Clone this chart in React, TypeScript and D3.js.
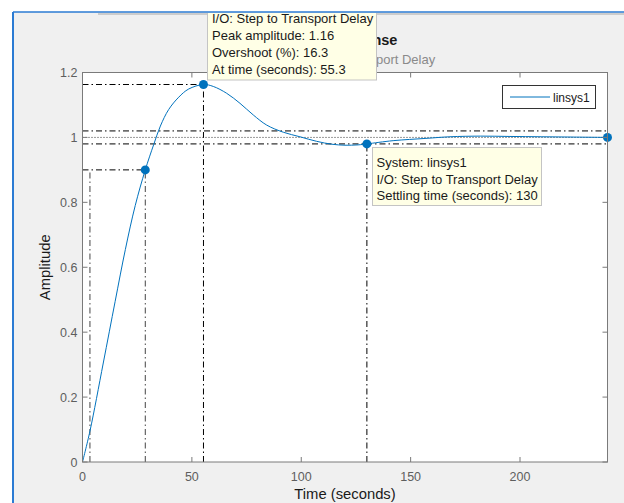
import React from "react";
import * as d3 from "d3";

// ---- data ----
const time = [0, 3.4, 9.5, 14.9, 19.6, 24.1, 28.7, 32.5, 35.6, 39.4, 44, 48.5, 55.3, 59.8, 65.9, 72, 78.1, 84.2, 91.8, 99.4, 107, 114, 120, 126, 130, 142, 157, 168, 182, 195, 210, 225, 240];
const amplitude = [0, 0.095, 0.305, 0.494, 0.655, 0.79, 0.9, 0.977, 1.035, 1.086, 1.124, 1.149, 1.163, 1.157, 1.136, 1.105, 1.069, 1.038, 1.016, 1.002, 0.988, 0.979, 0.976, 0.977, 0.98, 0.99, 0.997, 1.002, 1.004, 1.003, 1.002, 1.001, 1.0];

const xTicks = [0, 50, 100, 150, 200];
const yTicks = [0, 0.2, 0.4, 0.6, 0.8, 1, 1.2];
const yTickLabels = ["0", "0.2", "0.4", "0.6", "0.8", "1", "1.2"];

const riseTimes = [3.4, 28.7];
const riseLevel = 0.9;
const peakTime = 55.3;
const peakValue = 1.163;
const settleTime = 130;
const settleBand = [0.98, 1.02];
const steadyValue = 1.0;
const finalTime = 240;

const peakTip = ["System: linsys1", "I/O: Step to Transport Delay", "Peak amplitude: 1.16", "Overshoot (%): 16.3", "At time (seconds): 55.3"];
const settleTip = ["System: linsys1", "I/O: Step to Transport Delay", "Settling time (seconds): 130"];
const seriesName = "linsys1";

const W = 624;
const H = 503;
const L = 82.5, R = 607.5, T = 72.5, B = 462;

export default function App() {
  const x = d3.scaleLinear().domain([0, 240]).range([L, R]);
  const y = d3.scaleLinear().domain([0, 1.2]).range([B, T]);
  const line = d3
    .line<number>()
    .x((_, i) => x(time[i]))
    .y((d) => y(d))
    .curve(d3.curveCatmullRom.alpha(0.5));
  const blue = "#0072BD";
  const dashDot = "6,3,1.5,3";
  const font = "'Liberation Sans', Arial, Helvetica, sans-serif";
  const tickColor = "#7a7a7a";
  const labelColor = "#5e5e5e";

  const markers: [number, number][] = [
    [riseTimes[1], riseLevel],
    [peakTime, peakValue],
    [settleTime, settleBand[0]],
    [finalTime, steadyValue],
  ];

  return (
    <svg width={W} height={H} style={{ position: "absolute", left: 0, top: 0 }} fontFamily={font}>
      <defs>
        <clipPath id="fig">
          <rect x={13} y={13} width={W - 13} height={H - 13} />
        </clipPath>
        <clipPath id="plot">
          <rect x={L} y={T - 6} width={R - L + 6} height={B - T + 12} />
        </clipPath>
      </defs>
      <rect x={0} y={0} width={W} height={H} fill="#ffffff" />
      <rect x={13} y={12} width={W - 13} height={H - 12} fill="#f0f0f0" />
      <line x1={13} x2={W} y1={12} y2={12} stroke="#2b7bd3" strokeWidth={1.5} />
      <line x1={98} x2={W} y1={14} y2={14} stroke="#a8a8a8" strokeWidth={1} />
      <line x1={13} x2={13} y1={12} y2={H} stroke="#2b7bd3" strokeWidth={2} />

      {/* title and subtitle */}
      <text x={(L + R) / 2} y={45} textAnchor="middle" fontSize={14.5} fontWeight="bold" fill="#1a1a1a">
        Step Response
      </text>
      <text x={(L + R) / 2} y={64} textAnchor="middle" fontSize={13} fill="#8a8a8a">
        From: Step  To: Transport Delay
      </text>

      {/* axes area */}
      <rect x={L} y={T} width={R - L} height={B - T} fill="#ffffff" />

      {/* characteristic lines */}
      <g stroke="#000" strokeWidth={1} fill="none" strokeDasharray={dashDot}>
        <line x1={x(riseTimes[0])} x2={x(riseTimes[0])} y1={y(0)} y2={y(riseLevel)} stroke="#444" />
        <line x1={x(riseTimes[1])} x2={x(riseTimes[1])} y1={y(0)} y2={y(riseLevel)} stroke="#444" />
        <line x1={x(0)} x2={x(riseTimes[1])} y1={y(riseLevel)} y2={y(riseLevel)} />
        <line x1={x(0)} x2={x(peakTime)} y1={y(peakValue)} y2={y(peakValue)} />
        <line x1={x(peakTime)} x2={x(peakTime)} y1={y(0)} y2={y(peakValue)} />
        <line x1={x(0)} x2={x(240)} y1={y(settleBand[1])} y2={y(settleBand[1])} />
        <line x1={x(0)} x2={x(240)} y1={y(settleBand[0])} y2={y(settleBand[0])} />
        <line x1={x(settleTime)} x2={x(settleTime)} y1={y(0)} y2={y(settleBand[0])} />
      </g>
      <line x1={x(0)} x2={x(240)} y1={y(steadyValue)} y2={y(steadyValue)} stroke="#333" strokeWidth={1} strokeDasharray="1,2" />

      {/* response */}
      <path d={line(amplitude) || ""} fill="none" stroke={blue} strokeWidth={1} clipPath="url(#plot)" />
      {markers.map(([t, v], i) => (
        <circle key={i} cx={x(t)} cy={y(v)} r={4.5} fill={blue} />
      ))}

      {/* axes box and ticks */}
      <rect x={L} y={T} width={R - L} height={B - T} fill="none" stroke={tickColor} strokeWidth={1} />
      {xTicks.map((t) => (
        <g key={"x" + t}>
          <line x1={x(t)} x2={x(t)} y1={B} y2={B - 5} stroke={tickColor} />
          <line x1={x(t)} x2={x(t)} y1={T} y2={T + 5} stroke={tickColor} />
          <text x={x(t)} y={481} textAnchor="middle" fontSize={12.5} fill={labelColor}>
            {t}
          </text>
        </g>
      ))}
      {yTicks.map((v, i) => (
        <g key={"y" + v}>
          <line x1={L} x2={L + 5} y1={y(v)} y2={y(v)} stroke={tickColor} />
          <line x1={R} x2={R - 5} y1={y(v)} y2={y(v)} stroke={tickColor} />
          <text x={L - 5} y={y(v) + 4.5} textAnchor="end" fontSize={12.5} fill={labelColor}>
            {yTickLabels[i]}
          </text>
        </g>
      ))}
      <text x={(L + R) / 2} y={499} textAnchor="middle" fontSize={14.8} fill="#1a1a1a">
        Time (seconds)
      </text>
      <text transform={`translate(50,${(T + B) / 2}) rotate(-90)`} textAnchor="middle" fontSize={14.8} fill="#1a1a1a">
        Amplitude
      </text>

      {/* legend */}
      <rect x={502.5} y={85.5} width={93} height={23} fill="#ffffff" stroke="#333" strokeWidth={1} />
      <line x1={510} x2={550} y1={97} y2={97} stroke={blue} strokeWidth={1} />
      <text x={553} y={101.5} fontSize={12} fill="#1a1a1a">
        {seriesName}
      </text>

      {/* data tips */}
      <g clipPath="url(#fig)">
        <rect x={207.5} y={-10} width={169} height={90} fill="#ffffe6" stroke="#c4c4c4" />
        {peakTip.map((s, i) => (
          <text key={s} x={212} y={6.3 + i * 16.9} fontSize={13} fill="#1a1a1a">
            {s}
          </text>
        ))}
      </g>
      <rect x={372.5} y={147.5} width={169} height={58} fill="#ffffe6" stroke="#c4c4c4" />
      {settleTip.map((s, i) => (
        <text key={s} x={376.5} y={166.8 + i * 16.8} fontSize={13} fill="#1a1a1a">
          {s}
        </text>
      ))}
    </svg>
  );
}
